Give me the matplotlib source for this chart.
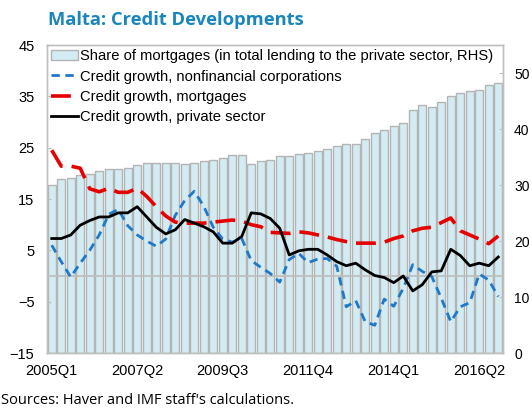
import numpy as np
import matplotlib
matplotlib.use("Agg")
import matplotlib.pyplot as plt
from matplotlib.patches import Patch
from matplotlib.lines import Line2D

# Quarterly data, 2005Q1 - 2016Q4
quarters = [f"{y}Q{q}" for y in range(2005, 2017) for q in range(1, 5)]
tick_labels = ["2005Q1", "2007Q2", "2009Q3", "2011Q4", "2014Q1", "2016Q2"]

# share of mortgages in total lending (RHS, percent)
mortgage_share = [30.0, 31.1, 31.2, 31.7, 31.9, 32.5, 32.8, 32.8, 33.0, 33.5,
                  34.0, 34.0, 34.0, 34.0, 33.8, 34.0, 34.3, 34.5, 34.9, 35.4,
                  35.3, 33.8, 34.3, 34.4, 35.1, 35.2, 35.5, 35.8, 36.0, 36.4,
                  36.9, 37.4, 37.3, 38.3, 39.2, 39.8, 40.5, 41.1, 43.4, 44.3,
                  44.0, 44.9, 45.9, 46.4, 46.7, 47.0, 47.9, 48.3]

# credit growth, nonfinancial corporations (LHS, percent)
nfc_growth = [6.0, 2.8, -0.2, 2.5, 5.0, 8.0, 12.0, 13.0, 9.8, 8.0,
              6.8, 5.8, 7.2, 11.8, 14.7, 16.5, 13.6, 9.5, 7.2, 6.6,
              7.3, 3.0, 1.7, 0.5, -1.2, 3.2, 4.4, 2.6, 3.3, 3.4,
              1.9, -6.0, -4.8, -8.9, -9.6, -4.5, -5.9, -2.4, 2.2, 0.9,
              -0.1, -4.3, -8.9, -6.0, -5.2, 0.4, -0.8, -4.0]

# credit growth, mortgages (LHS, percent)
mortgage_growth = [24.5, 21.4, 21.4, 21.0, 17.0, 16.4, 17.1, 16.3, 16.3, 17.1,
                   15.5, 13.5, 11.7, 10.5, 10.3, 10.3, 10.3, 10.5, 10.7, 10.9,
                   10.7, 10.0, 9.6, 8.5, 8.4, 8.3, 8.6, 8.4, 8.0, 7.6,
                   7.1, 6.7, 6.4, 6.4, 6.4, 6.6, 7.3, 7.8, 8.8, 9.3,
                   9.5, 10.4, 11.3, 8.8, 8.0, 7.2, 6.3, 7.8]

# credit growth, private sector (LHS, percent)
private_growth = [7.3, 7.3, 8.0, 9.9, 10.8, 11.5, 11.5, 12.3, 12.3, 13.5,
                  11.5, 9.5, 8.2, 9.0, 11.0, 10.3, 9.6, 8.6, 6.4, 6.4,
                  7.7, 12.3, 12.1, 11.2, 9.3, 4.1, 4.9, 5.2, 5.2, 4.1,
                  2.8, 2.0, 2.5, 1.2, 0.1, -0.3, -1.3, 0.0, -2.9, -1.7,
                  0.8, 1.0, 5.2, 4.0, 2.0, 2.5, 2.0, 3.7]

x = np.arange(len(quarters))
gray = "#BFBFBF"
plt.rcParams["font.family"] = ["Liberation Sans", "DejaVu Sans"]

fig = plt.figure(figsize=(5.32, 4.08), dpi=100)
ax = fig.add_axes([0.0883, 0.1348, 0.8572, 0.7549])
ax2 = ax.twinx()

# bars on the right axis, behind the lines
ax2.bar(x, mortgage_share, width=0.8, color="#D3ECF3", edgecolor="#B4B4B4", linewidth=1.0)
ax2.set_ylim(0, 55)
ax2.set_yticks(np.arange(0, 51, 10))
ax.set_zorder(ax2.get_zorder() + 1)
ax.patch.set_visible(False)

ax.axhline(0, color=gray, linewidth=1.3, zorder=1)
ax.plot(x, nfc_growth, color="#1F78C8", linewidth=2.0, dashes=(3, 2), zorder=3)
ax.plot(x, mortgage_growth, color="#E60000", linewidth=2.6, dashes=(5.5, 2.5), zorder=3)
ax.plot(x, private_growth, color="black", linewidth=2.0, zorder=4)

ax.set_ylim(-15, 45)
ax.set_yticks(np.arange(-15, 46, 10))
ax.set_xlim(-0.5, len(quarters) - 0.5)
ax.set_xticks([quarters.index(t) for t in tick_labels])
ax.set_xticklabels(tick_labels)

for a in (ax, ax2):
    for s in a.spines.values():
        s.set_color(gray)
        s.set_linewidth(1.0)
    a.tick_params(labelsize=10.5, colors="black", length=3, direction="in", color=gray)
ax.tick_params(axis="x", length=0, pad=8)
ax.tick_params(axis="y", pad=9)
ax2.tick_params(axis="y", labelsize=10, pad=8)

handles = [
    Patch(facecolor="#D3ECF3", edgecolor="#B4B4B4",
          label="Share of mortgages (in total lending to the private sector, RHS)"),
    Line2D([], [], color="#1F78C8", linewidth=2.0, dashes=(3, 2),
           label="Credit growth, nonfinancial corporations"),
    Line2D([], [], color="#E60000", linewidth=2.6, dashes=(5.5, 2.5),
           label="Credit growth, mortgages"),
    Line2D([], [], color="black", linewidth=2.0, label="Credit growth, private sector"),
]
ax.legend(handles=handles, loc="upper left", frameon=False, fontsize=10.6,
          handlelength=1.8, handletextpad=0.15, labelspacing=0.42,
          borderaxespad=0.1, borderpad=0.2)

fig.text(0.09, 0.952, "Malta: Credit Developments", fontsize=13.2, fontweight="bold",
         color="#1A86BC", family="Open Sans", va="center", ha="left")
fig.text(0.002, 0.018, "Sources: Haver and IMF staff's calculations.", fontsize=10.5,
         family="Open Sans", va="center", ha="left")

fig.savefig("out.png", dpi=100)
